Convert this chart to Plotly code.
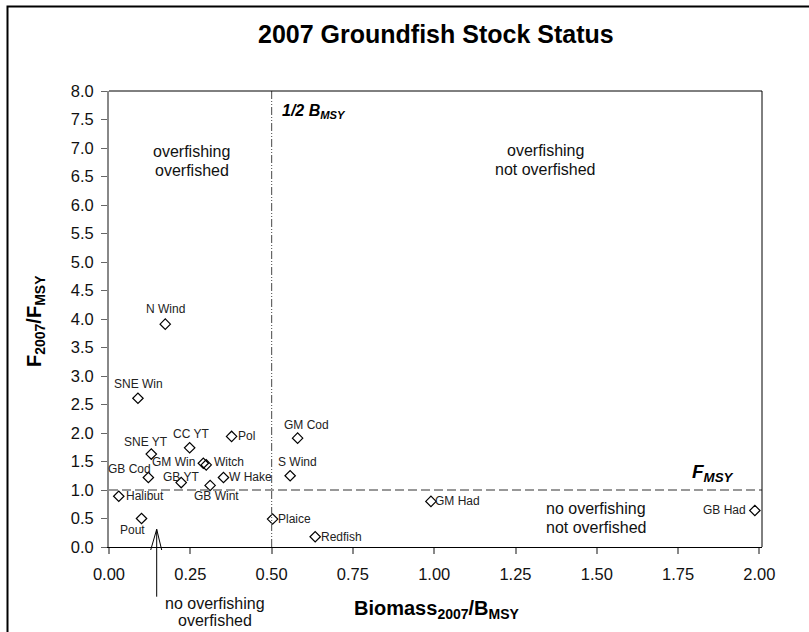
import plotly.graph_objects as go

# ---------------- data ----------------
stocks = ["N Wind", "SNE Win", "CC YT", "Pol", "SNE YT", "GM Win", "Witch",
          "W Hake", "GB Cod", "GB YT", "GB Wint", "Halibut", "Pout", "Plaice",
          "S Wind", "GM Cod", "GM Had", "Redfish", "GB Had"]
biomass_ratio = [0.173, 0.089, 0.248, 0.377, 0.130, 0.290, 0.299,
                 0.352, 0.121, 0.222, 0.311, 0.030, 0.100, 0.503,
                 0.557, 0.580, 0.990, 0.634, 1.986]
f_ratio = [3.91, 2.61, 1.74, 1.94, 1.63, 1.47, 1.44,
           1.22, 1.22, 1.13, 1.08, 0.89, 0.50, 0.49,
           1.25, 1.91, 0.80, 0.18, 0.64]

x_tick_vals = [0.0, 0.25, 0.5, 0.75, 1.0, 1.25, 1.5, 1.75, 2.0]
x_tick_text = ["0.00", "0.25", "0.50", "0.75", "1.00", "1.25", "1.50", "1.75", "2.00"]
y_tick_vals = [0.0, 0.5, 1.0, 1.5, 2.0, 2.5, 3.0, 3.5, 4.0, 4.5, 5.0, 5.5, 6.0, 6.5, 7.0, 7.5, 8.0]
y_tick_text = ["0.0", "0.5", "1.0", "1.5", "2.0", "2.5", "3.0", "3.5", "4.0", "4.5",
               "5.0", "5.5", "6.0", "6.5", "7.0", "7.5", "8.0"]

half_bmsy = 0.5
fmsy = 1.0

# ---------------- style / layout ----------------
W, H = 809, 632
ML, MR, MT, MB = 109, 47, 91, 85
PW = W - ML - MR
PH = H - MT - MB
X_MAX = 2.008
Y_MAX = 8.0
FONT = "Liberation Sans, Arial, sans-serif"

# label placement: (xanchor, xshift px, yshift px)
label_style = {
    "N Wind": ("center", 0, 15), "SNE Win": ("center", 1, 14),
    "CC YT": ("center", 1.5, 14), "Pol": ("left", 6, 0.5),
    "SNE YT": ("center", -5, 12), "GM Win": ("right", -8, 1),
    "Witch": ("left", 8, 3), "W Hake": ("left", 6, 0),
    "GB Cod": ("center", -19, 8), "GB YT": ("center", 0, 6),
    "GB Wint": ("center", 6, -11), "Halibut": ("left", 7, 0),
    "Pout": ("center", -9, -11), "Plaice": ("left", 5, 0),
    "S Wind": ("center", 7.5, 13.5), "GM Cod": ("center", 9, 13.3),
    "GM Had": ("left", 4, 0), "Redfish": ("left", 6, 0),
    "GB Had": ("right", -9, 1),
}


def px(xp):
    return (xp - ML) / PW


def py(yp):
    return (H - MB - yp) / PH


fig = go.Figure()
fig.add_trace(go.Scatter(
    x=biomass_ratio, y=f_ratio, mode="markers", cliponaxis=False,
    marker=dict(symbol="diamond-open", size=8, color="black",
                line=dict(color="black", width=1.2)),
    hoverinfo="text", text=stocks,
))

annotations = []
for name, bx, fy in zip(stocks, biomass_ratio, f_ratio):
    anc, dx, dy = label_style[name]
    annotations.append(dict(
        x=bx, y=fy, xref="x", yref="y", text=name, showarrow=False,
        xanchor=anc, yanchor="middle", xshift=dx, yshift=dy,
        borderpad=0, borderwidth=0,
        font=dict(family=FONT, size=12, color="#222")))


def txt(text, x, y, size, anchor="center", angle=0, color="#111"):
    annotations.append(dict(
        x=px(x), y=py(y), xref="paper", yref="paper", text=text,
        showarrow=False, xanchor=anchor, yanchor="middle", textangle=angle,
        borderpad=0, borderwidth=0,
        font=dict(family=FONT, size=size, color=color)))


txt("<b>2007 Groundfish Stock Status</b>", 435.5, 34, 25, color="#000")
txt("<b>Biomass<sub>2007</sub>/B<sub>MSY</sub></b>", 436.5, 609, 20, color="#000")
txt("<b>F<sub>2007</sub>/F<sub>MSY</sub></b>", 35, 321, 20, angle=-90, color="#000")
txt("<b><i>1/2 B<sub>MSY</sub></i></b>", 282, 112, 16, anchor="left", color="#000")
txt("<b><i>F<sub>MSY</sub></i></b>", 713, 473, 19, color="#000")

txt("overfishing", 191.7, 151.7, 16)
txt("overfished", 191.7, 170.7, 16)
txt("overfishing", 545.7, 150.8, 16)
txt("not overfished", 545.7, 169.8, 16)
txt("no overfishing", 596, 508, 16)
txt("not overfished", 596, 527, 16)
txt("no overfishing", 215, 603.3, 16)
txt("overfished", 214.5, 620, 16)

shapes = [
    # reference lines
    dict(type="line", xref="x", yref="paper", x0=half_bmsy, x1=half_bmsy, y0=0, y1=1,
         line=dict(color="#666", width=1.2, dash="8px,2px,1px,2px,1px,2px")),
    dict(type="line", xref="paper", yref="y", x0=0, x1=1, y0=fmsy, y1=fmsy,
         line=dict(color="#777", width=1.5, dash="9px,4px")),
    # plot box top/right
    dict(type="line", xref="paper", yref="paper", x0=0, x1=1, y0=1, y1=1,
         line=dict(color="black", width=1)),
    dict(type="line", xref="paper", yref="paper", x0=1, x1=1, y0=0, y1=1,
         line=dict(color="black", width=1)),
    # outer frame
    dict(type="rect", xref="paper", yref="paper", x0=px(7.5), x1=px(900),
         y0=py(6.5), y1=py(720), line=dict(color="black", width=2)),
    # arrow to the bottom-left quadrant
    dict(type="path", xref="paper", yref="paper",
         path=f"M{px(156.7)},{py(596.7)} L{px(156.7)},{py(529.3)} "
              f"M{px(150.7)},{py(550)} L{px(156.7)},{py(529.3)} L{px(161.7)},{py(550)}",
         line=dict(color="black", width=1)),
]

fig.update_layout(
    width=W, height=H,
    margin=dict(l=ML, r=MR, t=MT, b=MB, pad=0),
    paper_bgcolor="white", plot_bgcolor="white",
    showlegend=False,
    font=dict(family=FONT, color="#111"),
    annotations=annotations, shapes=shapes,
    xaxis=dict(range=[0, X_MAX], tickvals=x_tick_vals, ticktext=x_tick_text,
               ticks="outside", ticklen=6, tickwidth=1.5, tickcolor="#888",
               showline=True, linecolor="black", linewidth=1.2,
               showgrid=False, zeroline=False, ticklabelstandoff=6,
               tickfont=dict(family=FONT, size=16.5, color="#111"), fixedrange=True),
    yaxis=dict(range=[0, Y_MAX], tickvals=y_tick_vals, ticktext=y_tick_text,
               ticks="outside", ticklen=6, tickwidth=1.2, tickcolor="#666",
               showline=True, linecolor="#888", linewidth=2,
               showgrid=False, zeroline=False, ticklabelstandoff=4,
               tickfont=dict(family=FONT, size=16.5, color="#111"), fixedrange=True),
)

fig.write_html(
    "out.html",
    config={"displayModeBar": False},
    post_script="document.body.style.margin='0';document.body.style.padding='0';"
                "document.documentElement.style.overflow='hidden';",
)
